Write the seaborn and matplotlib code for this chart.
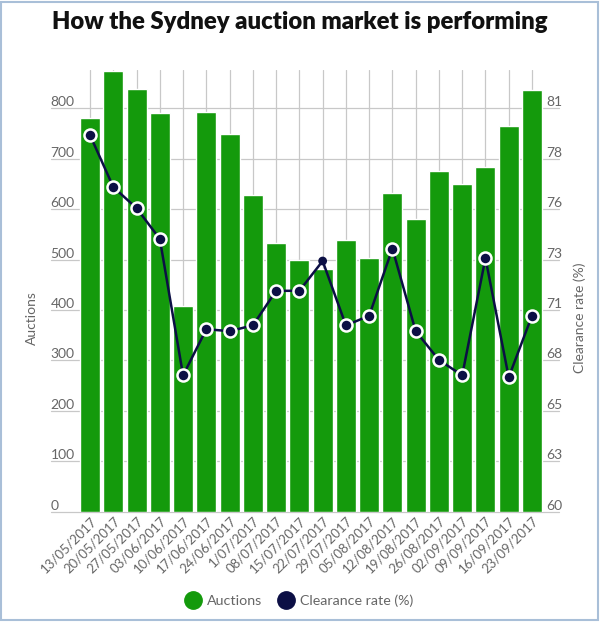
import numpy as np
import pandas as pd
import matplotlib
matplotlib.use("Agg")
import matplotlib.pyplot as plt
import matplotlib.transforms as mtransforms
from matplotlib.lines import Line2D
from matplotlib.patches import Rectangle
import seaborn as sns

# ---- data ----
dates = ["13/05/2017", "20/05/2017", "27/05/2017", "03/06/2017", "10/06/2017",
         "17/06/2017", "24/06/2017", "1/07/2017", "08/07/2017", "15/07/2017",
         "22/07/2017", "29/07/2017", "05/08/2017", "12/08/2017", "19/08/2017",
         "26/08/2017", "02/09/2017", "09/09/2017", "16/09/2017", "23/09/2017"]
auctions = [780, 873, 838, 790, 407, 793, 749, 628, 532, 499,
            482, 539, 503, 632, 580, 676, 650, 684, 764, 836]
clearance = [79.6, 76.9, 75.8, 74.2, 67.1, 69.5, 69.4, 69.7, 71.5, 71.5,
             73.05, 69.7, 70.2, 73.7, 69.4, 67.9, 67.1, 73.2, 67.0, 70.2]
left_ticks = [0, 100, 200, 300, 400, 500, 600, 700, 800]
right_tick_values = [60, 62.625, 65.25, 67.875, 70.5, 73.125, 75.75, 78.375, 81]
highlight_index = 10  # point drawn without white ring

GREEN = "#149a0c"
NAVY = "#0c0f45"
GREY = "#666666"
GRID = "#c8c8c8"

sns.set_theme(style="white")
plt.rcParams["font.family"] = ["Lato", "DejaVu Sans"]

df = pd.DataFrame({"date": dates, "auctions": auctions, "clearance": clearance})
df["pos"] = np.arange(len(df))

fig = plt.figure(figsize=(6.0, 6.22), dpi=100)
ax = fig.add_axes([0.1307, 0.1773, 0.7753, 0.7102])

# vertical grid lines at category centres
for p in df["pos"]:
    ax.axvline(p, color=GRID, lw=0.9, zorder=0)

sns.barplot(data=df, x="date", y="auctions", color=GREEN, saturation=1,
            width=0.86, ax=ax, zorder=2)
ax.set_xlim(-0.5, len(df) - 0.5)
ymax = 876
ax.set_ylim(0, ymax)
ax.set_yticks(left_ticks)
for s in ax.spines.values():
    s.set_visible(False)

# horizontal gridlines extended under tick labels
blend = mtransforms.blended_transform_factory(ax.transAxes, ax.transData)
for t in left_ticks:
    ax.plot([-0.06, 1.033], [t, t], transform=blend, color=GRID, lw=0.9,
            clip_on=False, zorder=0.5)

ax.tick_params(axis="y", length=0, pad=20, labelsize=10, labelcolor=GREY)
for lab in ax.get_yticklabels():
    lab.set_horizontalalignment("left")
    lab.set_verticalalignment("bottom")

ax.set_xlabel("")
ax.set_ylabel("")
ax.tick_params(axis="x", length=0, pad=2, labelsize=9.5, labelcolor=GREY)
ax.set_xticks(df["pos"])
ax.set_xticklabels(dates, rotation=45, ha="right", rotation_mode="anchor")

# secondary axis
ax2 = ax.twinx()
rmin, rmax = 60, 60 + (81 - 60) * ymax / 800
sns.lineplot(x=df["pos"], y=df["clearance"], ax=ax2, color=NAVY, lw=1.8,
             zorder=3)
mask = df["pos"] != highlight_index
sns.scatterplot(x=df["pos"][mask], y=df["clearance"][mask], ax=ax2, color=NAVY,
                s=75, edgecolor="white", linewidth=1.8, zorder=4)
sns.scatterplot(x=df["pos"][~mask], y=df["clearance"][~mask], ax=ax2, color=NAVY,
                s=40, edgecolor="none", linewidth=0, zorder=4)
ax2.set_ylim(rmin, rmax)
ax2.set_xlim(-0.5, len(df) - 0.5)
ax2.set_yticks(right_tick_values)
ax2.set_yticklabels([str(int(np.floor(v + 0.5))) for v in right_tick_values])
ax2.tick_params(axis="y", length=0, pad=2, labelsize=10, labelcolor=GREY)
for lab in ax2.get_yticklabels():
    lab.set_verticalalignment("bottom")
ax2.set_xlabel("")
ax2.set_ylabel("")
ax2.grid(False)
for s in ax2.spines.values():
    s.set_visible(False)

# axis titles
fig.text(32 / 600, 1 - 318 / 622, "Auctions", rotation=90, ha="center",
         va="center", fontsize=10, color=GREY)
fig.text(580 / 600, 1 - 318 / 622, "Clearance rate (%)", rotation=90,
         ha="center", va="center", fontsize=10, color=GREY)

# title
fig.text(0.5, 1 - 22 / 622, "How the Sydney auction market is performing",
         ha="center", va="center", fontsize=17.2, fontweight="heavy",
         color="#111111")

# legend
handles = [Line2D([], [], marker="o", ls="none", markersize=12.5,
                  markerfacecolor=GREEN, markeredgecolor=GREEN),
           Line2D([], [], marker="o", ls="none", markersize=12.5,
                  markerfacecolor=NAVY, markeredgecolor=NAVY)]
leg = fig.legend(handles, ["Auctions", "Clearance rate (%)"], loc="center",
                 bbox_to_anchor=(0.498, 1 - 601 / 622), ncol=2, frameon=False,
                 fontsize=10.3, handletextpad=0.4, columnspacing=1.0,
                 handlelength=1.2)
for t in leg.get_texts():
    t.set_color(GREY)

# outer border
fig.patches.append(Rectangle((0.002, 0.003), 0.995, 0.994,
                             transform=fig.transFigure, fill=False,
                             edgecolor="#a9bfd8", lw=1.5))

fig.savefig("out.png", dpi=100)
